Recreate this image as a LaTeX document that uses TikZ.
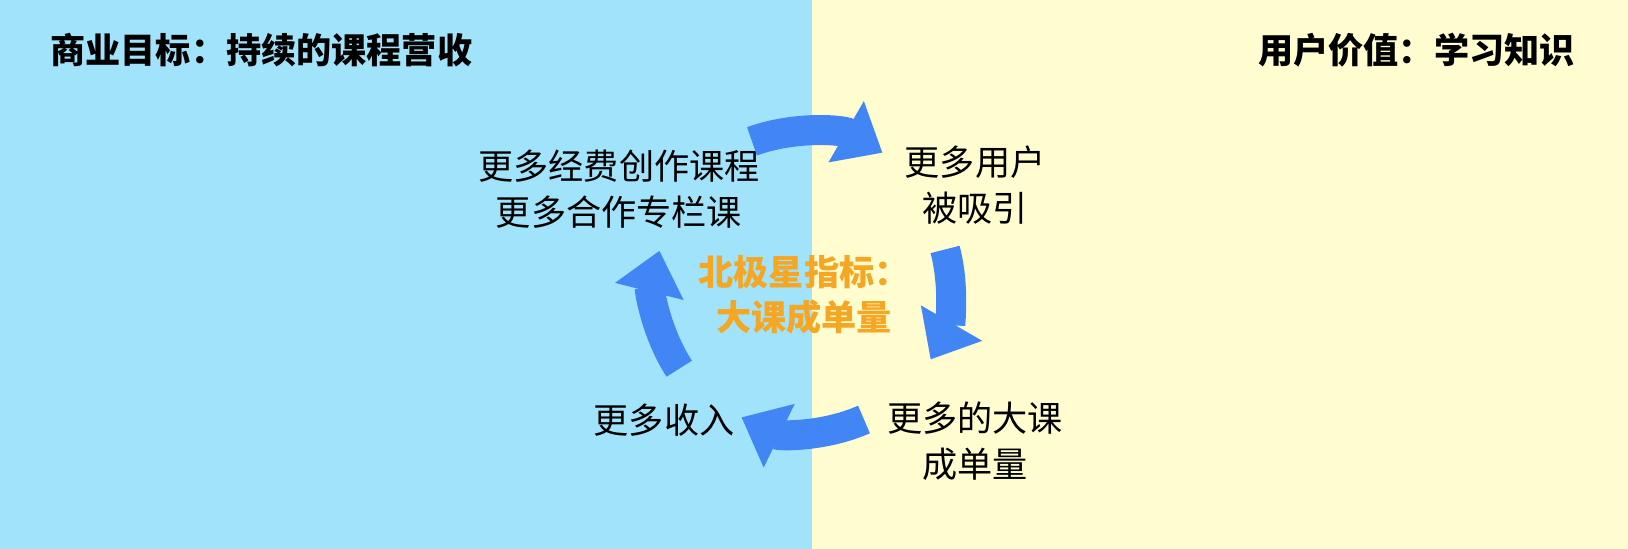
\documentclass[tikz,border=0pt]{standalone}
\usepackage{fontspec}
\setmainfont{Noto Sans CJK SC}
\usetikzlibrary{arrows.meta}

\tikzset{
    stage/.style = {align = center, font = \fontsize{10pt}{13pt}\selectfont},
    title/.style = {font = \fontsize{10pt}{13pt}\selectfont\bfseries},
    cyclearrow/.style = {-{Triangle[width = 0.68cm, length = 0.42cm]},
        line width = 0.3cm, color = arrowblue},
}
\definecolor{leftbg}{HTML}{A0E3FA}
\definecolor{rightbg}{HTML}{FFFDD0}
\definecolor{arrowblue}{HTML}{4285F4}
\definecolor{stargold}{HTML}{F5A623}

\begin{document}
\begin{tikzpicture}
    %% background
    \fill[leftbg] (0, 0) rectangle (8.12, 5.49);
    \fill[rightbg] (8.12, 0) rectangle (16.28, 5.49);
    \useasboundingbox (0, 0) rectangle (16.28, 5.49);

    %% titles
    \node[title, anchor = west] (biz) at (0.38, 4.99) {商业目标：持续的课程营收};
    \node[title, anchor = east] (user) at (15.87, 4.99) {用户价值：学习知识};

    %% stages
    \node[stage] (fund) at (6.19, 3.60) {更多经费创作课程\\更多合作专栏课};
    \node[stage] (attract) at (9.75, 3.64) {更多用户\\被吸引};
    \node[stage] (orders) at (9.75, 1.08) {更多的大课\\成单量};
    \node[stage] (income) at (6.64, 1.29) {更多收入};

    %% north star
    \node[stage, text = stargold, font = \fontsize{10pt}{13pt}\selectfont\bfseries]
        (star) at (8.04, 2.54) {北极星指标：\\大课成单量};

    %% cycle
    \coordinate (hub) at (8.05, 2.62);
    \draw[cyclearrow] (hub) ++(110:1.55) arc[start angle = 110, end angle = 60, radius = 1.55];
    \draw[cyclearrow] (hub) ++(15:1.45) arc[start angle = 15, end angle = -30, radius = 1.45];
    \draw[cyclearrow] (hub) ++(-66:1.45) arc[start angle = -66, end angle = -116, radius = 1.45];
    \draw[cyclearrow] (hub) ++(213:1.5) arc[start angle = 213, end angle = 166, radius = 1.5];
\end{tikzpicture}
\end{document}
